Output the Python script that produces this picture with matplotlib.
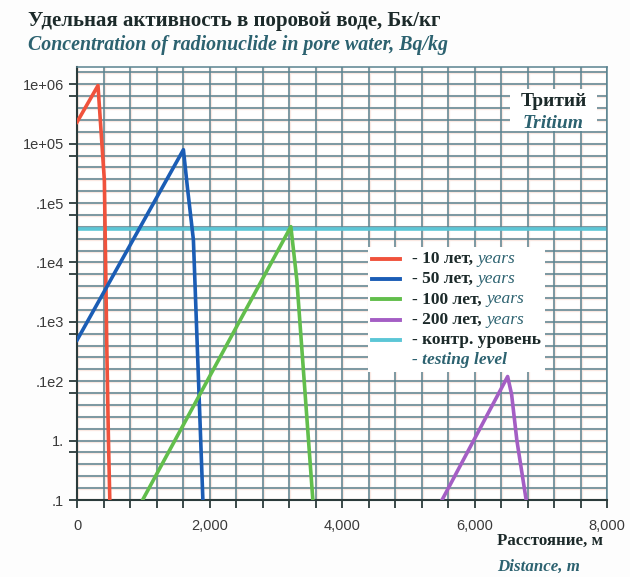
import numpy as np
import matplotlib.pyplot as plt
from matplotlib.lines import Line2D
from matplotlib.patches import Rectangle
from matplotlib.offsetbox import TextArea, DrawingArea, HPacker, VPacker, AnchoredOffsetbox

plt.rcParams['font.family'] = ['Liberation Sans', 'DejaVu Sans']

# данные (расстояние, м / активность, Бк/кг)
red_x = [0, 317, 413, 438, 448, 473, 495]
red_y = [2.3e5, 9.5e5, 2.4e4, 350, 50, 1.3, 0.1]
blue_x = [0, 1606, 1665, 1757, 1900]
blue_y = [49, 7.9e4, 1.9e4, 2.4e3, 0.1]
green_x = [990, 3228, 3318, 3560]
green_y = [0.1, 4.0e3, 510, 0.1]
purple_x = [5510, 6500, 6560, 6640, 6780]
purple_y = [0.1, 12, 6, 1.0, 0.1]
level_x = [0, 8000]
level_y = [3.6e3, 3.6e3]

series_labels = ["- 10 лет, ", "- 50 лет, ", "- 100 лет, ", "- 200 лет, "]
series_colors = ['#f0523c', '#1b5db5', '#62be4c', '#a45ec4']
level_color = '#5cc6d6'

y_ticks = [0.1, 1, 10, 1e2, 1e3, 1e4, 1e5, 1e6]
y_tick_labels = ['.1', '1.', '.1e2', '.1e3', '.1e4', '.1e5', '1e+05', '1e+06']
x_ticks = [0, 2000, 4000, 6000, 8000]
x_tick_labels = ['0', '2,000', '4,000', '6,000', '8,000']

serif = 'Liberation Serif'
dark = '#1c2a2a'
teal = '#2c6270'
grid_c = '#5a8390'

W, H = 630, 577
fig = plt.figure(figsize=(6.3, 5.77), dpi=100)
fig.patch.set_facecolor('#fdfdfd')
ax = fig.add_axes([77 / W, 1 - 500 / H, (607 - 77) / W, (500 - 67) / H])
ax.set_yscale('log')
ax.set_xlim(0, 8000)
ax.set_ylim(0.1, 10 ** 6.29)

# сетка: по x каждые 400 м, по y пять линий на декаду (с розоватым ореолом, как в печати)
grid_x = np.arange(0, 8001, 400)
grid_y = 10 ** np.arange(-1, 6.3, 0.2)
for c, lw, z in [('#fae8e2', 2.4, 0), (grid_c, 1.1, 0.5)]:
    ax.vlines(grid_x, 0, 1, transform=ax.get_xaxis_transform(), color=c, lw=lw, zorder=z)
    ax.hlines(grid_y, 0, 1, transform=ax.get_yaxis_transform(), color=c, lw=lw, zorder=z)

for xs, ys, c in zip([red_x, blue_x, green_x, purple_x], [red_y, blue_y, green_y, purple_y], series_colors):
    ax.plot(xs, ys, color=c, lw=2.6, zorder=3)
ax.plot(level_x, level_y, color=level_color, lw=2.6, zorder=2)

ax.set_xticks(x_ticks)
ax.set_xticklabels(x_tick_labels)
ax.set_xticks(grid_x, minor=True)
ax.set_yticks(y_ticks)
ax.set_yticklabels(y_tick_labels)
ax.set_yticks([10 ** (k - 0.2) for k in range(0, 7)], minor=True)
ax.tick_params(which='both', direction='out', length=6, width=1.3, color='#2b3b3b')
ax.tick_params(labelsize=10.5, labelcolor='#3a3a3a')
ax.tick_params(axis='x', pad=8)
for s in ['left', 'bottom']:
    ax.spines[s].set_color('#2b3b3b')
    ax.spines[s].set_linewidth(1.5)
for s in ['top', 'right']:
    ax.spines[s].set_color(grid_c)
    ax.spines[s].set_linewidth(1.1)

# заголовки
fig.text(28 / W, 1 - 21 / H, "Удельная активность в поровой воде, Бк/кг", family=serif,
         weight='bold', size=15, color=dark, va='center')
fig.text(28 / W, 1 - 45 / H, "Concentration of radionuclide in pore water, Bq/kg", family=serif,
         weight='bold', style='italic', size=14.3, color=teal, va='center')
fig.text(497 / W, 1 - 541 / H, "Расстояние, м", family=serif, weight='bold', size=12.2,
         color=dark, va='center')
fig.text(497 / W, 1 - 567 / H, "Distance, m", family=serif, weight='bold', style='italic',
         size=12.2, color=teal, va='center')

# подпись "Тритий"
fig.patches.append(Rectangle((510 / W, 1 - 131 / H), 87 / W, 42 / H, transform=fig.transFigure,
                             facecolor='white', edgecolor='none', zorder=5))
fig.text(554 / W, 1 - 101 / H, "Тритий", family=serif, weight='bold', size=14, color=dark,
         ha='center', va='center', zorder=6)
fig.text(553 / W, 1 - 123 / H, "Tritium", family=serif, weight='bold', style='italic', size=14,
         color=teal, ha='center', va='center', zorder=6)


# легенда
def handle(color):
    da = DrawingArea(20, 8, 0, 0)
    if color is not None:
        da.add_artist(Line2D([0, 20], [4, 4], color=color, lw=2.8))
    return da


bold_props = dict(family=serif, weight='bold', size=12.5, color=dark)
rows = []
for lab, c in zip(series_labels, series_colors):
    txt = HPacker(children=[
        TextArea(lab, textprops=bold_props),
        TextArea("years", textprops=dict(family=serif, style='italic', size=12.5, color=teal)),
    ], sep=0, align='baseline')
    rows.append(HPacker(children=[handle(c), txt], sep=9, align='center'))
rows.append(HPacker(children=[
    handle(level_color),
    TextArea("- контр. уровень", textprops=bold_props),
], sep=9, align='center'))
rows.append(HPacker(children=[
    handle(None),
    TextArea("- testing level", textprops=dict(family=serif, weight='bold', style='italic',
                                               size=12.5, color=teal)),
], sep=9, align='center'))
box = VPacker(children=rows, sep=3.0, align='left')
leg = AnchoredOffsetbox(loc='upper left', child=box, pad=0.3, borderpad=0, frameon=True,
                        bbox_to_anchor=(368 / W, 1 - 247 / H), bbox_transform=fig.transFigure)
leg.patch.set_facecolor('white')
leg.patch.set_edgecolor('none')
leg.set_zorder(5)
ax.add_artist(leg)

fig.savefig('out.png', dpi=100, facecolor=fig.get_facecolor())
